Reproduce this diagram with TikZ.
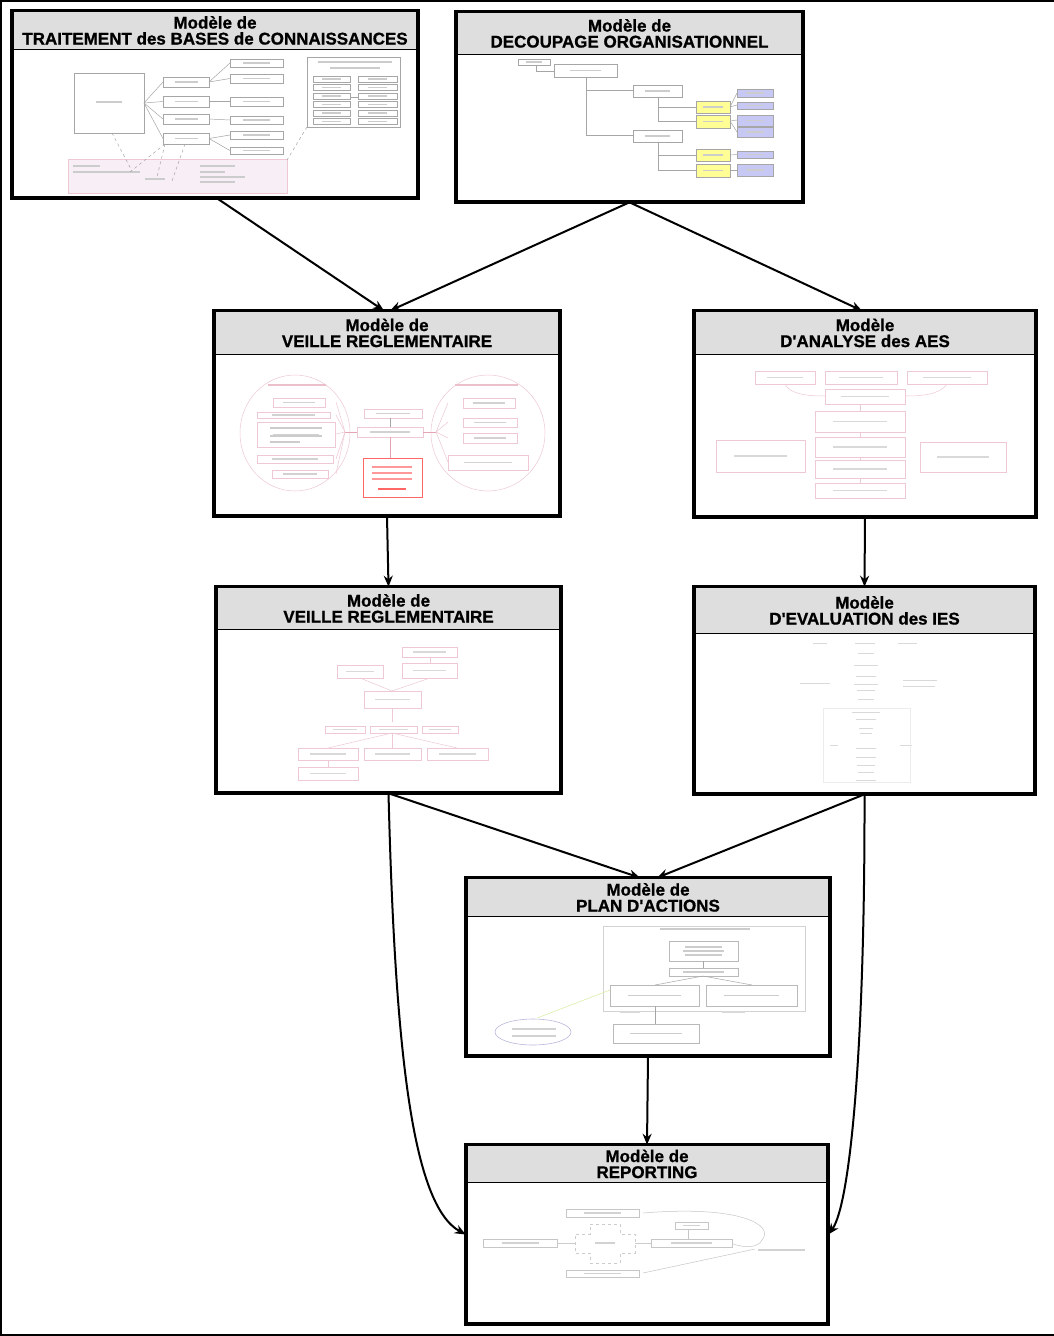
\documentclass[tikz,border=0pt]{standalone}
\usepackage{fontspec}
\setmainfont{Liberation Sans}
\newfontfamily\hdrfont{Liberation Sans}[BoldFeatures={FakeBold=0.9}]
\usetikzlibrary{arrows.meta,calc}
\definecolor{hdrgray}{RGB}{222,222,222}
\definecolor{pinkln}{RGB}{228,165,180}
\definecolor{palepink}{RGB}{238,200,210}
\definecolor{yellowbox}{RGB}{255,255,150}
\definecolor{lavbox}{RGB}{200,200,245}
\definecolor{pinkfill}{RGB}{248,238,246}
\tikzset{
  modelbox/.style={draw=black, line width=2.6pt, inner sep=0pt},
  header/.style={draw=black, fill=hdrgray, line width=1.4pt, inner sep=0pt, align=center,
     font=\hdrfont\bfseries\fontsize{17}{16}\selectfont},
  arr/.style={draw=black, line width=2pt, -{Stealth[length=11pt,width=9pt]}},
  th/.style={draw=gray!70, line width=0.5pt},
  thp/.style={draw=pinkln, line width=0.5pt},
  thl/.style={draw=palepink, line width=0.5pt},
  bar/.style={draw=gray!40, line width=1.3pt},
  pbar/.style={draw=pinkln!70, line width=1.1pt},
}
\newcommand\tbox[5][th]{\draw[#1] (#2,#3) rectangle (#4,#5);
  \draw[bar] ({#2+0.25*(#4-#2)},{(#3+#5)/2}) -- ({#4-0.25*(#4-#2)},{(#3+#5)/2});}
\begin{document}
\begin{tikzpicture}[x=1pt,y=-1pt]
\useasboundingbox (0,0) rectangle (1054,1336);
\fill[white] (0,0) rectangle (1054,1336);
% outer frame
\draw[line width=2pt] (0,1) -- (1054,1);
\draw[line width=2pt] (1,0) -- (1,1336);
\draw[line width=2pt] (0,1335) -- (1054,1335);

% ---------- boxes ----------
\node[modelbox, minimum width=404pt, minimum height=185pt] (b1) at (215,104.5) {};
\node[header, minimum width=404pt, minimum height=38pt, anchor=north] (h1) at (b1.north)
  {Modèle de\\TRAITEMENT des BASES de CONNAISSANCES};
\node[modelbox, minimum width=345pt, minimum height=188pt] (b2) at (629.5,107) {};
\node[header, minimum width=345pt, minimum height=42pt, anchor=north] (h2) at (b2.north)
  {Modèle de\\DECOUPAGE ORGANISATIONNEL};
\node[modelbox, minimum width=344pt, minimum height=203pt] (b3) at (387,413.5) {};
\node[header, minimum width=344pt, minimum height=43pt, anchor=north] (h3) at (b3.north)
  {Modèle de\\VEILLE REGLEMENTAIRE};
\node[modelbox, minimum width=340pt, minimum height=204pt] (b4) at (865,414) {};
\node[header, minimum width=340pt, minimum height=43pt, anchor=north] (h4) at (b4.north)
  {Modèle\\D'ANALYSE des AES};
\node[modelbox, minimum width=343pt, minimum height=204pt] (b5) at (388.5,690) {};
\node[header, minimum width=343pt, minimum height=42pt, anchor=north] (h5) at (b5.north)
  {Modèle de\\VEILLE REGLEMENTAIRE};
\node[modelbox, minimum width=339pt, minimum height=205pt] (b6) at (864.5,690.5) {};
\node[header, minimum width=339pt, minimum height=46pt, anchor=north] (h6) at (b6.north)
  {Modèle\\D'EVALUATION des IES};
\node[modelbox, minimum width=362pt, minimum height=176pt] (b7) at (648,967) {};
\node[header, minimum width=362pt, minimum height=38pt, anchor=north] (h7) at (b7.north)
  {Modèle de\\PLAN D'ACTIONS};
\node[modelbox, minimum width=360pt, minimum height=177pt] (b8) at (647,1234.5) {};
\node[header, minimum width=360pt, minimum height=37pt, anchor=north] (h8) at (b8.north)
  {Modèle de\\REPORTING};
\foreach \b in {b1,b2,b3,b4,b5,b6,b7,b8}
  \draw[line width=2.6pt] (\b.south west) rectangle (\b.north east);

% ---------- connectors ----------
\draw[arr] ([xshift=2pt]b1.south) -- ([xshift=-3pt]b3.north);
\draw[arr] (b2.south) -- ([xshift=3pt]b3.north);
\draw[arr] (b2.south) -- ([xshift=-3pt]b4.north);
\draw[arr] (b3.south) -- (b5.north);
\draw[arr] (b4.south) -- (b6.north);
\draw[arr] (b5.south) -- ([xshift=-8pt]b7.north);
\draw[arr] (b6.south) -- ([xshift=9pt]b7.north);
\draw[arr] (b5.south) .. controls (395,1050) and (412,1205) .. (b8.west);
\draw[arr] (b6.south) .. controls (865,1050) and (850,1205) .. (b8.east);
\draw[arr] (b7.south) -- (b8.north);

% ---------- thumbnail 1 ----------
\draw[th] (74,73) rectangle (144,133);
\draw[bar] (96,102) -- (122,102);
\foreach \ya/\yb in {77/87,96/107,114/124,133/144} {\tbox{163}{\ya}{209}{\yb}}
\foreach \ya/\yb in {59/67,74/83,97/106,116/124,131/139,147/154} {\tbox{230}{\ya}{283}{\yb}}
\foreach \y in {82,101.5,119,138.5} \draw[th] (144,103) -- (163,\y);
\draw[th] (209,82) -- (230,63); \draw[th] (209,82) -- (230,78.5);
\draw[th] (209,101.5) -- (230,101.5); \draw[th] (209,119) -- (230,120);
\draw[th] (209,138.5) -- (230,135); \draw[th] (209,138.5) -- (230,150.5);
\draw[th] (307,57) rectangle (400,127);
\draw[bar] (318,62) -- (392,62); \draw[bar] (330,68) -- (380,68);
\foreach \y in {76,84.5,93,101.5,110,118.5} {\tbox{313}{\y}{350}{\y+6} \tbox{358}{\y}{397}{\y+6}}
\draw[th] (350,97) -- (358,97);
\draw[th, fill=pinkfill, draw=palepink] (68,159) rectangle (287,193);
\draw[bar] (73,166) -- (100,166); \draw[bar] (73,172) -- (140,172);
\draw[bar] (200,166) -- (235,166); \draw[bar] (200,172) -- (225,172);
\draw[bar] (200,177) -- (245,177); \draw[bar] (200,182) -- (235,182);
\draw[bar] (145,179) -- (165,179);
\draw[th, dashed] (112,133) -- (132,171);
\draw[th, dashed] (165,144) -- (130,172);
\draw[th, dashed] (165,144) -- (157,177);
\draw[th, dashed] (185,144) -- (172,181);
\draw[th, dashed] (307,127) -- (287,160);

% ---------- thumbnail 2 ----------
\tbox{518}{59}{550}{65}
\tbox{554}{64}{617}{77}
\tbox{633}{85}{682}{97}
\tbox{633}{130}{682}{142}
\draw[th] (536,65) -- (536,71) -- (554,71);
\draw[th] (586,77) -- (586,135) -- (633,135);
\draw[th] (586,90) -- (633,90);
\draw[th] (658,97) -- (658,121) -- (696,121);
\draw[th] (658,107) -- (696,107);
\draw[th] (658,142) -- (658,170) -- (696,170);
\draw[th] (658,155) -- (696,155);
\foreach \ya/\yb in {101/113,115/128,149/161,164/177}
  {\draw[th, fill=yellowbox] (696,\ya) rectangle (730,\yb);
   \draw[bar] (703,{(\ya+\yb)/2}) -- (723,{(\ya+\yb)/2});}
\foreach \ya/\yb in {89/97,102/109,115/126,127/137,151/158,164/176}
  {\draw[th, fill=lavbox] (737,\ya) rectangle (773,\yb);
   \draw[bar] (746,{(\ya+\yb)/2}) -- (764,{(\ya+\yb)/2});}
\draw[th] (730,107) -- (737,93); \draw[th] (730,107) -- (737,105);
\draw[th] (730,121) -- (737,120); \draw[th] (730,121) -- (737,132);
\draw[th] (730,155) -- (737,154.5); \draw[th] (730,170) -- (737,170);

% ---------- thumbnail 3 ----------
\draw[thl] (295,433) ellipse [x radius=55, y radius=58];
\draw[thl] (488,433) ellipse [x radius=57, y radius=58];
\draw[pbar] (268,385) -- (326,385);
\draw[pbar] (455,385) -- (518,385);
\foreach \xa/\ya/\xb/\yb in {273/398/325/407, 257/412/330/418, 257/422/335/447, 257/455/333/463, 272/470/328/478,
  364/409/422/418, 357/427/423/437, 463/398/515/408, 463/418/517/427, 463/433/517/443, 448/455/528/470}
  {\draw[thl] (\xa,\ya) rectangle (\xb,\yb);
   \draw[pbar, draw=gray!35] ({\xa+0.2*(\xb-\xa)},{(\ya+\yb)/2}) -- ({\xb-0.2*(\xb-\xa)},{(\ya+\yb)/2});}
\draw[bar] (270,428) -- (322,428); \draw[bar] (270,436) -- (322,436); \draw[bar] (270,442) -- (300,442);
\draw[draw=red!60, line width=0.6pt] (363,458) rectangle (422,497);
\draw[draw=red!40, line width=1.1pt] (372,467) -- (412,467);
\draw[draw=red!40, line width=1.1pt] (372,473) -- (412,473);
\draw[draw=red!40, line width=1.1pt] (372,479) -- (412,479);
\draw[draw=red!60, line width=1.1pt] (378,489) -- (406,489);
\draw[thp] (390,437) -- (390,458);
\draw[th] (390,418) -- (390,427);
\draw[thp] (357,432) -- (345,432);
\foreach \y in {402,415,434,459,474} \draw[thl] (345,432) -- (336,\y);
\draw[thp] (423,432) -- (436,432);
\foreach \y in {403,422,438,462} \draw[thl] (436,432) -- (448,\y);

% ---------- thumbnail 4 ----------
\foreach \xa/\ya/\xb/\yb in {755/371/815/384, 825/371/897/384, 907/371/987/384, 825/389/905/404,
  815/411/905/432, 815/437/905/457, 815/460/905/478, 815/483/905/498, 716/440/805/472, 920/442/1006/472}
  {\draw[thl] (\xa,\ya) rectangle (\xb,\yb);
   \draw[bar, draw=gray!30] ({\xa+0.2*(\xb-\xa)},{(\ya+\yb)/2}) -- ({\xb-0.2*(\xb-\xa)},{(\ya+\yb)/2});}
\draw[thl] (785,384) .. controls (790,395) and (810,396) .. (825,396);
\draw[thl] (947,384) .. controls (940,395) and (920,396) .. (905,396);
\foreach \ya/\yb in {404/411,432/437,457/460,478/483} \draw[thl] (860,\ya) -- (860,\yb);

% ---------- thumbnail 5 ----------
\foreach \xa/\ya/\xb/\yb in {402/647/457/657, 402/663/457/678, 337/665/383/678, 364/691/421/708,
  325/726/365/733, 370/726/417/733, 422/726/458/733, 298/748/358/760, 364/748/421/760, 427/748/488/760, 298/767/358/780}
  {\draw[thl] (\xa,\ya) rectangle (\xb,\yb);
   \draw[bar, draw=gray!30] ({\xa+0.2*(\xb-\xa)},{(\ya+\yb)/2}) -- ({\xb-0.2*(\xb-\xa)},{(\ya+\yb)/2});}
\draw[thl] (360,678) -- (392,691); \draw[thl] (430,678) -- (392,691);
\draw[thl] (430,657) -- (430,663);
\draw[thl] (392,708) -- (392,722);
\draw[thl] (392,733) -- (328,748); \draw[thl] (392,733) -- (392,748); \draw[thl] (392,733) -- (457,748);
\draw[thl] (328,760) -- (328,767);

% ---------- thumbnail 6 ----------
\begin{scope}[draw=gray!30, line width=1pt]
\draw (813,643) -- (827,643); \draw (855,643) -- (875,643); \draw (898,643) -- (917,643);
\foreach \y/\w in {653/8,665/12,676/10,684/12,690/9,699/8,712/14,719/10,728/7,733/6,748/10,757/10,765/9,772/8,780/10}
  \draw (866-\w,\y) -- (866+\w,\y);
\draw (800,683) -- (830,683); \draw (903,680) -- (937,680); \draw (903,686) -- (935,686);
\draw (830,745) -- (838,745); \draw (900,745) -- (912,745);
\end{scope}
\draw[draw=gray!15, line width=0.4pt] (823,708) rectangle (910,782);

% ---------- thumbnail 7 ----------
\draw[draw=gray!35, line width=0.5pt] (603,926) rectangle (805,1011);
\draw[bar, draw=gray!40] (660,929) -- (750,929);
\foreach \xa/\ya/\xb/\yb in {669/941/738/961, 669/968/738/976, 610/985/699/1006, 706/985/797/1006, 613/1024/699/1043}
  {\draw[th, draw=gray!55] (\xa,\ya) rectangle (\xb,\yb);
   \draw[bar, draw=gray!40] ({\xa+0.2*(\xb-\xa)},{(\ya+\yb)/2}) -- ({\xb-0.2*(\xb-\xa)},{(\ya+\yb)/2});}
\draw[bar, draw=gray!40] (685,947) -- (722,947);
\draw[bar, draw=gray!40] (685,955) -- (722,955);
\draw[th] (703,961) -- (703,968);
\draw[th] (703,976) -- (655,985); \draw[th] (703,976) -- (752,985);
\draw[th] (655,1006) -- (655,1024);
\draw[bar, draw=gray!30] (620,1012) -- (640,1012); \draw[bar, draw=gray!30] (722,1012) -- (745,1012);
\draw[draw=lavbox!80!gray, line width=0.6pt] (533,1032) ellipse [x radius=38, y radius=13];
\draw[bar, draw=gray!35] (512,1029) -- (556,1029); \draw[bar, draw=gray!35] (512,1036) -- (556,1036);
\draw[draw=yellow!60!green!40, line width=0.5pt] (537,1018) -- (610,990);

% ---------- thumbnail 8 ----------
\foreach \xa/\ya/\xb/\yb in {566/1209/639/1217, 483/1239/557/1247, 651/1239/732/1247, 566/1270/639/1277, 675/1222/708/1229}
  {\draw[th, draw=gray!45] (\xa,\ya) rectangle (\xb,\yb);
   \draw[bar, draw=gray!35] ({\xa+0.25*(\xb-\xa)},{(\ya+\yb)/2}) -- ({\xb-0.25*(\xb-\xa)},{(\ya+\yb)/2});}
\draw[th, draw=gray!40, dashed] (590,1224) -- (620,1224) -- (620,1234) -- (635,1234) -- (635,1253) -- (620,1253)
  -- (620,1263) -- (590,1263) -- (590,1253) -- (575,1253) -- (575,1234) -- (590,1234) -- cycle;
\draw[bar, draw=gray!35] (595,1243) -- (615,1243);
\draw[th, draw=gray!40] (557,1243) -- (575,1243);
\draw[th, draw=gray!40] (635,1243) -- (651,1243);
\draw[th, draw=gray!45] (688,1239) -- (688,1229);
\draw[th, draw=gray!45] (643,1213) .. controls (740,1205) and (775,1225) .. (762,1240)
  .. controls (758,1248) and (745,1248) .. (733,1244);
\draw[th, draw=gray!45] (755,1249) -- (643,1273);
\draw[bar, draw=gray!35] (758,1250) -- (805,1250);
\end{tikzpicture}
\end{document}
